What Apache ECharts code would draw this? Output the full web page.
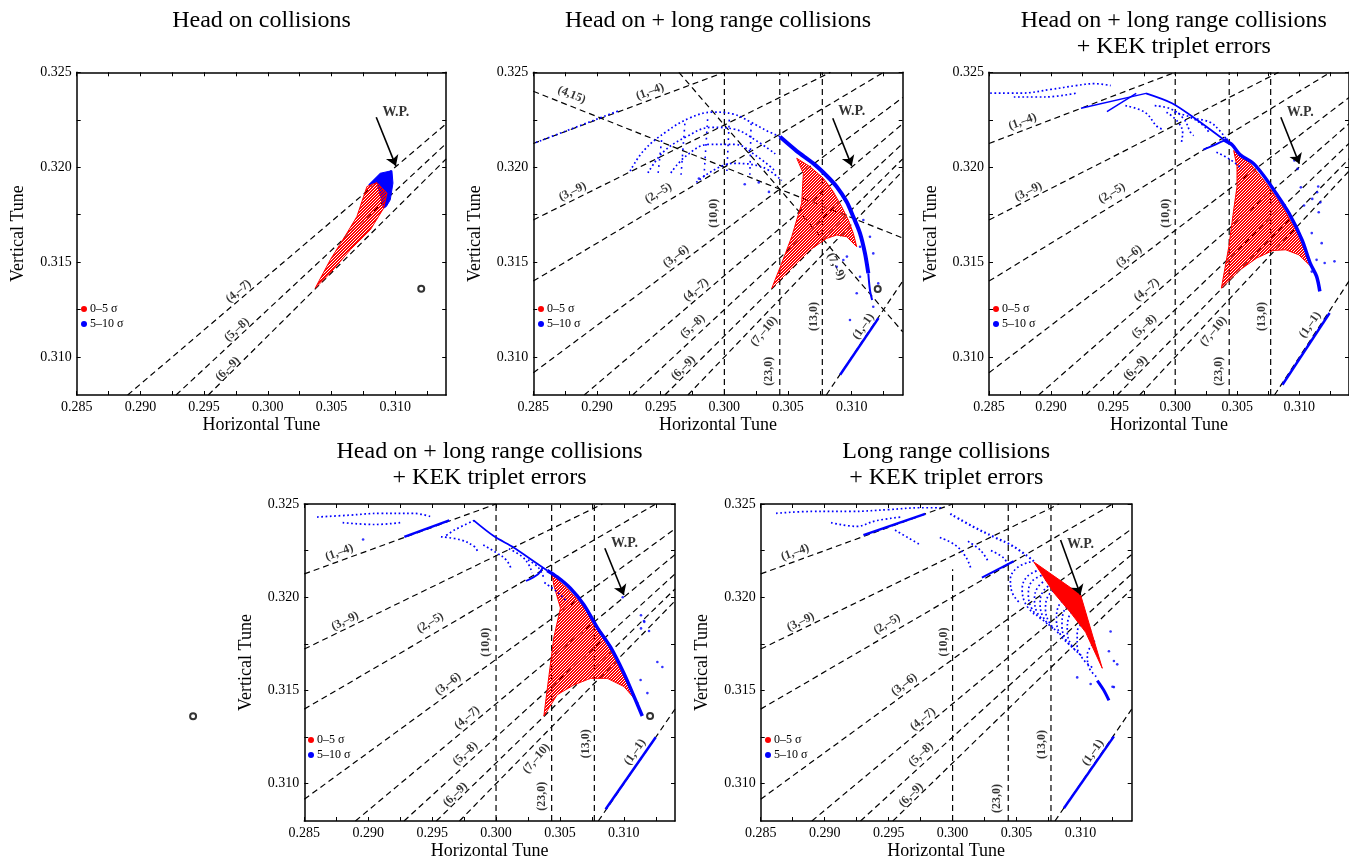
<!DOCTYPE html>
<html>
<head>
<meta charset="utf-8">
<script src="https://cdn.jsdelivr.net/npm/echarts@6/dist/echarts.min.js"></script>
<style>
  html, body { margin: 0; padding: 0; background: #fff; }
  #main { width: 1349px; height: 861px; }
</style>
</head>
<body>
<div id="main"></div>
<script>
// ---- axis ticks and labels (tune units) ----
var xTickLabels = [0.285, 0.290, 0.295, 0.300, 0.305, 0.310];
var yTickLabels = [0.310, 0.315, 0.320, 0.325];
var xTicks = [0.285, 0.2875, 0.290, 0.2925, 0.295, 0.2975, 0.300, 0.3025, 0.305, 0.3075, 0.310, 0.3125];
var yTicks = [0.3100, 0.3125, 0.3150, 0.3175, 0.3200, 0.3225, 0.3250];

// ---- resonance lines, end points ----
var res_1_m4 = [[0.285, 0.32125], [0.300, 0.325]];
var res_3_m9 = [[0.285, 0.31722], [0.30833, 0.325]];
var res_2_m5 = [[0.285, 0.314], [0.3125, 0.325]];
var res_3_m6 = [[0.285, 0.30917], [0.314, 0.32367]];
var res_4_m7 = [[0.289, 0.308], [0.314, 0.32229]];
var res_5_m8 = [[0.2928, 0.308], [0.314, 0.32125]];
var res_6_m9 = [[0.29533, 0.308], [0.314, 0.32044]];
var res_7_m10 = [[0.29714, 0.308], [0.314, 0.3198]];
var res_1_m1 = [[0.308, 0.308], [0.314, 0.314]];
var res_10_0 = [[0.300, 0.308], [0.300, 0.325]];
var res_10_0_cut = [[0.300, 0.308], [0.300, 0.3215]];
var res_23_0 = [[0.30435, 0.308], [0.30435, 0.325]];
var res_13_0 = [[0.30769, 0.308], [0.30769, 0.325]];
var res_4_15 = [[0.285, 0.324], [0.314, 0.31627]];
var res_7_9 = [[0.29643, 0.325], [0.314, 0.31133]];

// ---- resonance labels [text, Qx, Qy] ----
var lab1 = [['(4,–7)', 0.2977, 0.31346], ['(5,–8)', 0.29757, 0.31144], ['(6,–9)', 0.29686, 0.30937]];
var lab2 = [['(4,15)', 0.28801, 0.32381], ['(1,–4)', 0.29416, 0.32398], ['(3,–9)', 0.28809, 0.31872],
  ['(2,–5)', 0.29482, 0.31863], ['(10,0)', 0.29914, 0.31758], ['(3,–6)', 0.2962, 0.3153],
  ['(4,–7)', 0.29778, 0.31354], ['(5,–8)', 0.29751, 0.31161], ['(6,–9)', 0.29678, 0.30942],
  ['(7,–10)', 0.30312, 0.31135], ['(23,0)', 0.30346, 0.30925], ['(13,0)', 0.30699, 0.31214],
  ['(7,–9)', 0.30877, 0.31477], ['(1,–1)', 0.31092, 0.31161]];
var lab3 = [['(1,–4)', 0.2877, 0.3224], ['(3,–9)', 0.28817, 0.31872], ['(2,–5)', 0.2949, 0.31863],
  ['(10,0)', 0.29927, 0.31758], ['(3,–6)', 0.29628, 0.3153], ['(4,–7)', 0.2977, 0.31354],
  ['(5,–8)', 0.29751, 0.31161], ['(6,–9)', 0.29681, 0.30942], ['(7,–10)', 0.30309, 0.31135],
  ['(23,0)', 0.30348, 0.30925], ['(13,0)', 0.30702, 0.31214], ['(1,–1)', 0.31087, 0.3117]];
var lab4 = [['(1,–4)', 0.28774, 0.3224], ['(3,–9)', 0.28819, 0.31872], ['(2,–5)', 0.29485, 0.31863],
  ['(10,0)', 0.29924, 0.31758], ['(3,–6)', 0.29624, 0.31535], ['(4,–7)', 0.29773, 0.31354],
  ['(5,–8)', 0.2976, 0.31161], ['(6,–9)', 0.29681, 0.30942], ['(7,–10)', 0.30316, 0.31135],
  ['(23,0)', 0.30355, 0.30933], ['(13,0)', 0.307, 0.31214], ['(1,–1)', 0.31087, 0.3117]];
var lab5 = [['(1,–4)', 0.28769, 0.3224], ['(3,–9)', 0.28813, 0.31868], ['(2,–5)', 0.29487, 0.31856],
  ['(10,0)', 0.2993, 0.3176], ['(3,–6)', 0.29622, 0.31532], ['(4,–7)', 0.29768, 0.31346],
  ['(5,–8)', 0.29753, 0.31158], ['(6,–9)', 0.29675, 0.30939], ['(23,0)', 0.30348, 0.30921],
  ['(13,0)', 0.307, 0.3121], ['(1,–1)', 0.31097, 0.31167]];

// ---- working point: label position and arrow ----
var wpText = [[0.31005, 0.32289], [0.31, 0.32293], [0.31008, 0.32289], [0.31005, 0.32289], [0.31, 0.32281]];
var wpArrow = [
  [[0.30851, 0.32263], [0.31005, 0.32007]],
  [[0.30851, 0.32258], [0.31, 0.32007]],
  [[0.30851, 0.32263], [0.31, 0.32018]],
  [[0.30851, 0.32263], [0.31, 0.32012]],
  [[0.30844, 0.32307], [0.31, 0.32012]]
];

// ---- panel 1: head on ----
var p1Red = [[0.30372, 0.31363], [0.3049, 0.31512], [0.30621, 0.31653], [0.30699, 0.3174], [0.30778, 0.31898],
  [0.30856, 0.31919], [0.30935, 0.31863], [0.30909, 0.31784], [0.30804, 0.3167], [0.30647, 0.31565], [0.3049, 0.31442]];
var p1Blue = [[0.30791, 0.31907], [0.30882, 0.31968], [0.30974, 0.31982], [0.30982, 0.31916], [0.30961, 0.31828],
  [0.3093, 0.31793], [0.30909, 0.31784], [0.30856, 0.31919]];
var p1Circ = [[0.31204, 0.3136]];

// ---- panel 2: head on + long range ----
var p2Red = [[0.30372, 0.31362], [0.3045, 0.31494], [0.30529, 0.31634], [0.30607, 0.3181], [0.3062, 0.31968],
  [0.30568, 0.32047], [0.30672, 0.32003], [0.30777, 0.31942], [0.30855, 0.31871], [0.30921, 0.31792],
  [0.30973, 0.31722], [0.31012, 0.31652], [0.31039, 0.31581], [0.3096, 0.31634], [0.30882, 0.31643],
  [0.30803, 0.31625], [0.30672, 0.31564], [0.30541, 0.31476]];
var p2Band = [[0.30437, 0.3216], [0.30568, 0.32085], [0.30698, 0.3202], [0.30803, 0.31955], [0.30882, 0.31897],
  [0.3096, 0.31818], [0.31012, 0.31739], [0.31065, 0.31652], [0.31104, 0.31546], [0.3113, 0.31441]];
var p2BandTail = [[0.3113, 0.31441], [0.31143, 0.31353], [0.3116, 0.3130]];
var p2Arc1 = [[0.2926, 0.3198], [0.2937, 0.3209], [0.2955, 0.3219], [0.2973, 0.3226], [0.2991, 0.3229],
  [0.3007, 0.3228], [0.302, 0.3224], [0.3034, 0.3219], [0.3044, 0.3216]];
var p2Arc2 = [[0.294, 0.3197], [0.2952, 0.3208], [0.297, 0.3216], [0.299, 0.3221], [0.3008, 0.322], [0.3025, 0.3214], [0.304, 0.3207]];
var p2Arc3 = [[0.2958, 0.3197], [0.297, 0.3206], [0.2988, 0.3212], [0.3008, 0.3212], [0.3025, 0.3206], [0.304, 0.3198]];
var p2Arc4 = [[0.2978, 0.3192], [0.3007, 0.3202], [0.303, 0.32], [0.3045, 0.3193]];
var p2Col1 = [[0.2948, 0.3197], [0.2951, 0.3216]];
var p2Col2 = [[0.2966, 0.3196], [0.2969, 0.3223]];
var p2Col3 = [[0.2984, 0.3195], [0.2987, 0.3227]];
var p2Col4 = [[0.3002, 0.3198], [0.3004, 0.3227]];
var p2Col5 = [[0.302, 0.3196], [0.3021, 0.3223]];
var p2Tail = [[0.2852, 0.3213], [0.2918, 0.323]];
var p2Diag = [[0.30909, 0.30907], [0.3121, 0.31205]];
var p2Pts = [[0.31091, 0.31722], [0.31143, 0.31634], [0.31065, 0.31581], [0.31169, 0.31546], [0.31065, 0.31423],
  [0.31039, 0.31336], [0.30986, 0.31195], [0.31169, 0.31265], [0.31208, 0.31388], [0.30882, 0.31476],
  [0.30934, 0.31511], [0.30962, 0.31529], [0.298, 0.3194], [0.3016, 0.3191], [0.3027, 0.3192], [0.3035, 0.3187]];
var p2Circ = [[0.31204, 0.31358]];

// ---- panel 3: head on + long range + KEK errors ----
var p3Red = [[0.30372, 0.31363], [0.30432, 0.31582], [0.30471, 0.31775], [0.30498, 0.31898], [0.30498, 0.32003],
  [0.30471, 0.32088], [0.30602, 0.32021], [0.30733, 0.31916], [0.30864, 0.31793], [0.30969, 0.3167],
  [0.31047, 0.31565], [0.31094, 0.31477], [0.30995, 0.31539], [0.3089, 0.31565], [0.30786, 0.31561],
  [0.30655, 0.31521], [0.30524, 0.3146]];
var p3Band = [[0.30393, 0.32144], [0.30458, 0.32118], [0.30524, 0.32065], [0.30628, 0.32021], [0.30707, 0.3196],
  [0.30812, 0.31863], [0.30916, 0.31758], [0.31021, 0.31618], [0.31087, 0.31495], [0.31139, 0.31425], [0.31165, 0.31346]];
var p3Ridge = [[0.29765, 0.32389], [0.29974, 0.32337], [0.30157, 0.32258], [0.30288, 0.32196], [0.30393, 0.32144]];
var p3Top = [[0.2851, 0.3239], [0.2875, 0.3239], [0.29, 0.3241], [0.292, 0.3243], [0.2935, 0.3244], [0.2948, 0.3243]];
var p3Top2 = [[0.287, 0.3237], [0.2895, 0.3237], [0.292, 0.3239]];
var p3Streak1 = [[0.29241, 0.32311], [0.29765, 0.32389]];
var p3Streak2 = [[0.2945, 0.32293], [0.29686, 0.32389]];
var p3Arc1 = [[0.29599, 0.32324], [0.29756, 0.32289], [0.29861, 0.3221], [0.29913, 0.32201]];
var p3Arc2 = [[0.29835, 0.32324], [0.29966, 0.32307], [0.3007, 0.32254], [0.30123, 0.32184], [0.30149, 0.32166]];
var p3Arc3 = [[0.29992, 0.32289], [0.30123, 0.32263], [0.30227, 0.32219], [0.3028, 0.32175]];
var p3Arc4 = [[0.30175, 0.32254], [0.3028, 0.32237], [0.30358, 0.32193], [0.3041, 0.32149]];
var p3Arc5 = [[0.2993, 0.3229], [0.3002, 0.3224], [0.3006, 0.3218], [0.3005, 0.3213]];
var p3Hook = [[0.30227, 0.32093], [0.30332, 0.32122], [0.30423, 0.32149]];
var p3Drift = [[0.30332, 0.32079], [0.30437, 0.32043], [0.30541, 0.31991]];
var p3Diag = [[0.30864, 0.30854], [0.31244, 0.31232]];
var p3Pts = [[0.3096, 0.32035], [0.30986, 0.31991], [0.31012, 0.31894], [0.31143, 0.31868], [0.31169, 0.31815],
  [0.31104, 0.31833], [0.31156, 0.31763], [0.31038, 0.31798], [0.31139, 0.31512], [0.31204, 0.31495],
  [0.31283, 0.31504], [0.311, 0.31653], [0.31152, 0.31898], [0.3118, 0.316], [0.311, 0.3145]];

// ---- panel 4: same configuration, second run ----
var p4Red = [[0.30374, 0.31363], [0.30413, 0.31574], [0.30452, 0.31784], [0.30504, 0.31942], [0.30452, 0.32065],
  [0.30439, 0.32121], [0.30557, 0.32047], [0.30661, 0.31968], [0.30766, 0.31872], [0.3087, 0.31767],
  [0.30975, 0.31626], [0.31066, 0.31486], [0.311, 0.31442], [0.31001, 0.31521], [0.3087, 0.31565],
  [0.30739, 0.31565], [0.30609, 0.3153], [0.30478, 0.31477]];
var p4Band = [[0.304, 0.32144], [0.30478, 0.32109], [0.30583, 0.32047], [0.30687, 0.3196], [0.30792, 0.31837],
  [0.30896, 0.31732], [0.31001, 0.31591], [0.31079, 0.31468], [0.31144, 0.31363]];
var p4Ridge = [[0.29825, 0.32412], [0.29982, 0.32328], [0.30138, 0.32267], [0.30269, 0.32205], [0.304, 0.32144]];
var p4Top = [[0.286, 0.3243], [0.2885, 0.3244], [0.291, 0.3245], [0.2935, 0.3245], [0.295, 0.3243]];
var p4Top2 = [[0.288, 0.324], [0.2905, 0.3239], [0.2925, 0.324]];
var p4Streak = [[0.29282, 0.32324], [0.29634, 0.32412]];
var p4Peak = [[0.2983, 0.32412], [0.29674, 0.3236], [0.29595, 0.32324]];
var p4Arc1 = [[0.29569, 0.32324], [0.29726, 0.32307], [0.2983, 0.32272], [0.29856, 0.32245]];
var p4Arc2 = [[0.299, 0.3228], [0.3, 0.3224], [0.3008, 0.322], [0.3012, 0.3215]];
var p4Arc3 = [[0.301, 0.3226], [0.302, 0.3222], [0.3026, 0.3217], [0.3028, 0.3213]];
var p4Arc4 = [[0.3025, 0.322], [0.3033, 0.3216], [0.3037, 0.3211]];
var p4Hook = [[0.30234, 0.32087], [0.30326, 0.32122], [0.30365, 0.32158]];
var p4Drift = [[0.30378, 0.32079], [0.30482, 0.32026], [0.3056, 0.31973]];
var p4Diag = [[0.30857, 0.30863], [0.31249, 0.31249]];
var p4Pts = [[0.30991, 0.32], [0.31134, 0.31903], [0.3116, 0.31868], [0.31134, 0.31833], [0.31157, 0.31872],
  [0.31197, 0.31819], [0.31262, 0.31653], [0.31301, 0.31626], [0.31184, 0.31486], [0.31105, 0.31433],
  [0.31131, 0.31556], [0.2896, 0.3231]];
var p4Circ = [[0.31205, 0.31363], [0.2763, 0.31362]];

// ---- panel 5: long range + KEK errors ----
var p5Red = [[0.30635, 0.32189], [0.31, 0.32014], [0.3117, 0.31619], [0.3104, 0.31812], [0.30922, 0.31918], [0.30792, 0.32023]];
var p5Ridge = [[0.29982, 0.32447], [0.30164, 0.32377], [0.30321, 0.32324], [0.30477, 0.32272], [0.30635, 0.32193]];
var p5Top = [[0.2862, 0.3245], [0.289, 0.3246], [0.292, 0.3246], [0.295, 0.3247], [0.2975, 0.3248], [0.2992, 0.3248]];
var p5Top2 = [[0.2905, 0.324], [0.2925, 0.3238], [0.294, 0.3241], [0.296, 0.3243]];
var p5Streak = [[0.29303, 0.32333], [0.29786, 0.32447]];
var p5Hook = [[0.30229, 0.32105], [0.30477, 0.32193]];
var p5Arc1 = [[0.30609, 0.3219], [0.30504, 0.32158], [0.30452, 0.32096], [0.30465, 0.32026], [0.30531, 0.31965]];
var p5Arc2 = [[0.30687, 0.32149], [0.30583, 0.32111], [0.30544, 0.32044], [0.3057, 0.31965], [0.30648, 0.31903]];
var p5Arc3 = [[0.30765, 0.32105], [0.30674, 0.32061], [0.3064, 0.31991], [0.30666, 0.31912], [0.30752, 0.31851]];
var p5Arc4 = [[0.30844, 0.32061], [0.30752, 0.32012], [0.30726, 0.31939], [0.3076, 0.3186], [0.30844, 0.31798]];
var p5Arc5 = [[0.30909, 0.32009], [0.30831, 0.31956], [0.30812, 0.31877], [0.30844, 0.31798], [0.30927, 0.31737]];
var p5Arc6 = [[0.30974, 0.31956], [0.30909, 0.31895], [0.30896, 0.31816], [0.30935, 0.31737], [0.31013, 0.31684]];
var p5Arc7 = [[0.31026, 0.31868], [0.30974, 0.31816], [0.30974, 0.31737], [0.31021, 0.31667], [0.31092, 0.31623]];
var p5Arc8 = [[0.31092, 0.31746], [0.31053, 0.31693], [0.31066, 0.31623], [0.31131, 0.3157]];
var p5Arc9 = [[0.30726, 0.32125], [0.3062, 0.32085], [0.30592, 0.32015], [0.30622, 0.31935], [0.307, 0.31878]];
var p5Arc10 = [[0.30805, 0.32083], [0.30712, 0.32036], [0.30684, 0.31965], [0.30714, 0.31886], [0.30798, 0.31825]];
var p5Arc11 = [[0.30942, 0.31982], [0.3087, 0.31925], [0.30855, 0.31846], [0.3089, 0.31767], [0.3097, 0.3171]];
var p5Tail = [[0.31131, 0.31553], [0.31183, 0.315], [0.31222, 0.31447]];
var p5Cloud1 = [[0.299, 0.3232], [0.3002, 0.3228], [0.301, 0.3222], [0.3014, 0.3216]];
var p5Cloud2 = [[0.3012, 0.323], [0.3022, 0.3225], [0.3028, 0.3219]];
var p5Cloud3 = [[0.303, 0.3225], [0.304, 0.3221], [0.3044, 0.3216]];
var p5Cloud4 = [[0.2955, 0.3236], [0.2965, 0.3232], [0.2975, 0.3228]];
var p5Diag = [[0.3087, 0.30868], [0.31261, 0.31254]];
var p5Pts = [[0.31235, 0.31816], [0.31261, 0.31658], [0.31287, 0.3164], [0.31261, 0.31518], [0.30974, 0.3157],
  [0.31079, 0.31535], [0.31105, 0.31763], [0.31222, 0.3171], [0.3125, 0.3152]];

// ---------------------------------------------------------------
var FONT = 'Liberation Serif';
var RED = '#ff0000', BLUE = '#0000ff';
var labelAngle = {'(1,–4)': 20, '(3,–9)': 26, '(2,–5)': 31, '(3,–6)': 37, '(4,–7)': 40, '(5,–8)': 43,
  '(6,–9)': 45, '(7,–10)': 50, '(1,–1)': 55, '(10,0)': 90, '(23,0)': 90, '(13,0)': 90,
  '(4,15)': -22, '(7,–9)': -65};

var grids = [
  {left: 76.7, top: 72.3, width: 369.5, height: 322.7},
  {left: 533.3, top: 72.3, width: 369.4, height: 322.7},
  {left: 989, top: 72.3, width: 369.4, height: 322.7},
  {left: 304.3, top: 504, width: 370.7, height: 322.7},
  {left: 760.7, top: 504, width: 371, height: 323}
];
var legendPos = [[81, 303], [538, 303], [993, 303], [308, 734], [765, 734]];
var titles = [
  ['Head on collisions', 261.5, 8],
  ['Head on + long range collisions', 718, 8],
  ['Head on + long range collisions\n+ KEK triplet errors', 1173.7, 8],
  ['Head on + long range collisions\n+ KEK triplet errors', 489.6, 439],
  ['Long range collisions\n+ KEK triplet errors', 946.2, 439]
];

// stripe fill that mimics the dense mesh of red tune points
function meshFill(period, keep) {
  var c = document.createElement('canvas');
  c.width = period; c.height = period;
  var g = c.getContext('2d');
  g.fillStyle = RED;
  for (var x = 0; x < period; x++) {
    for (var y = 0; y < period; y++) {
      if (keep.indexOf((x + y) % period) >= 0) g.fillRect(x, y, 1, 1);
    }
  }
  return {image: c, repeat: 'repeat'};
}
var mesh = meshFill(3, [0, 1]);

var axisLine = {show: true, onZero: false, lineStyle: {color: '#000', width: 1.5}};
var xAxes = [], yAxes = [];
grids.forEach(function (gr, i) {
  var tickX = {show: true, inside: true, length: 4, customValues: xTicks, lineStyle: {color: '#000', width: 1}};
  var tickY = {show: true, inside: true, length: 4, customValues: yTicks, lineStyle: {color: '#000', width: 1}};
  xAxes.push({
    gridIndex: i, type: 'value', position: 'bottom', min: 0.285, max: 0.314,
    axisLine: axisLine, axisTick: tickX, splitLine: {show: false},
    axisLabel: {customValues: xTickLabels, formatter: function (v) { return v.toFixed(3); },
      fontFamily: FONT, fontSize: 14, color: '#000', margin: 5},
    name: 'Horizontal Tune', nameLocation: 'middle', nameGap: 21,
    nameTextStyle: {fontFamily: FONT, fontSize: 18, color: '#000'}
  });
  xAxes.push({
    gridIndex: i, type: 'value', position: 'top', min: 0.285, max: 0.314,
    axisLine: axisLine, axisTick: tickX, splitLine: {show: false}, axisLabel: {show: false}
  });
  yAxes.push({
    gridIndex: i, type: 'value', position: 'left', min: 0.308, max: 0.325,
    axisLine: axisLine, axisTick: tickY, splitLine: {show: false},
    axisLabel: {customValues: yTickLabels, formatter: function (v) { return v.toFixed(3); },
      fontFamily: FONT, fontSize: 14, color: '#000', margin: 5},
    name: 'Vertical Tune', nameLocation: 'middle', nameGap: 49,
    nameTextStyle: {fontFamily: FONT, fontSize: 18, color: '#000'}
  });
  yAxes.push({
    gridIndex: i, type: 'value', position: 'right', min: 0.308, max: 0.325,
    axisLine: axisLine, axisTick: tickY, splitLine: {show: false}, axisLabel: {show: false}
  });
});

function ax(g) { return {xAxisIndex: 2 * g, yAxisIndex: 2 * g}; }

function dashed(g, pts) {
  return Object.assign({type: 'line', data: pts, symbol: 'none', silent: true, z: 2,
    lineStyle: {color: '#000', width: 1.2, type: [6, 4]}}, ax(g));
}
function polygon(g, pts, fill, stroke, name, z) {
  return Object.assign({type: 'custom', name: name, silent: true, z: z, data: [pts[0]],
    renderItem: function (params, api) {
      return {type: 'polygon', shape: {points: pts.map(function (p) { return api.coord(p); })},
        style: {fill: fill, stroke: stroke, lineWidth: 1}};
    }}, ax(g));
}
function dots(g, pts, w, gap) {
  return Object.assign({type: 'line', name: '5–10 σ', data: pts, symbol: 'none', smooth: 0.4, silent: true, z: 4,
    lineStyle: {color: BLUE, width: w || 1.7, type: [1.7, gap || 2.6]}}, ax(g));
}
function band(g, pts, w) {
  return Object.assign({type: 'line', name: '5–10 σ', data: pts, symbol: 'none', smooth: 0.3, silent: true, z: 4,
    lineStyle: {color: BLUE, width: w}}, ax(g));
}
function points(g, pts) {
  return Object.assign({type: 'scatter', name: '5–10 σ', data: pts, symbolSize: 2.6, silent: true, z: 4,
    itemStyle: {color: BLUE}}, ax(g));
}
function circles(g, pts) {
  return Object.assign({type: 'scatter', data: pts, symbol: 'emptyCircle', symbolSize: 6, clip: false, silent: true, z: 5,
    itemStyle: {color: '#000', borderColor: '#000', borderWidth: 1}}, ax(g));
}
function labels(g, arr) {
  return Object.assign({type: 'scatter', data: arr.map(function (a) {
      return {value: [a[1], a[2]], label: {formatter: a[0], rotate: labelAngle[a[0]]}};
    }), symbolSize: 1, silent: true, z: 5, itemStyle: {color: 'transparent'},
    label: {show: true, position: 'inside', fontFamily: FONT, fontWeight: 'bold', fontSize: 12, color: '#000'}}, ax(g));
}
function workPoint(g) {
  return Object.assign({type: 'scatter', data: [wpText[g]], symbolSize: 1, silent: true, z: 6,
    itemStyle: {color: 'transparent'},
    label: {show: true, position: 'inside', formatter: 'W.P.', fontFamily: FONT, fontWeight: 'bold', fontSize: 14, color: '#000'},
    markLine: {silent: true, animation: false, symbol: ['none', 'arrow'], symbolSize: 10,
      lineStyle: {color: '#000', width: 1.6, type: 'solid'}, label: {show: false},
      data: [[{coord: wpArrow[g][0]}, {coord: wpArrow[g][1]}]]}}, ax(g));
}

var lines1 = [res_4_m7, res_5_m8, res_6_m9];
var linesStd = [res_1_m4, res_3_m9, res_2_m5, res_3_m6, res_4_m7, res_5_m8, res_6_m9, res_7_m10,
  res_1_m1, res_10_0, res_23_0, res_13_0];
var lines2 = linesStd.concat([res_4_15, res_7_9]);
var lines5 = [res_1_m4, res_3_m9, res_2_m5, res_3_m6, res_4_m7, res_5_m8, res_6_m9,
  res_1_m1, res_10_0_cut, res_23_0, res_13_0];

var series = [];
function addLines(g, list) { list.forEach(function (l) { series.push(dashed(g, l)); }); }

// panel 1
addLines(0, lines1);
series.push(polygon(0, p1Blue, BLUE, BLUE, '5–10 σ', 3));
series.push(polygon(0, p1Red, mesh, RED, '0–5 σ', 3.5));
series.push(circles(0, p1Circ), labels(0, lab1), workPoint(0));

// panel 2
addLines(1, lines2);
series.push(polygon(1, p2Red, mesh, RED, '0–5 σ', 3));
series.push(band(1, p2Band, 4), band(1, p2BandTail, 2), band(1, p2Diag, 2.5));
[p2Arc1, p2Arc2, p2Arc3, p2Arc4, p2Tail].forEach(function (a) { series.push(dots(1, a)); });
[p2Col1, p2Col2, p2Col3, p2Col4, p2Col5].forEach(function (a) { series.push(dots(1, a, 1.6, 4.5)); });
series.push(points(1, p2Pts), circles(1, p2Circ), labels(1, lab2), workPoint(1));

// panel 3
addLines(2, linesStd);
series.push(polygon(2, p3Red, mesh, RED, '0–5 σ', 3));
series.push(band(2, p3Band, 3.5), band(2, p3Ridge, 1.8), band(2, p3Streak1, 1.5), band(2, p3Streak2, 1.5),
  band(2, p3Hook, 1.8), band(2, p3Diag, 2.5));
[p3Top, p3Top2, p3Arc1, p3Arc2, p3Arc3, p3Arc4, p3Arc5, p3Drift].forEach(function (a) { series.push(dots(2, a)); });
series.push(points(2, p3Pts), labels(2, lab3), workPoint(2));

// panel 4
addLines(3, linesStd);
series.push(polygon(3, p4Red, mesh, RED, '0–5 σ', 3));
series.push(band(3, p4Band, 3.5), band(3, p4Ridge, 1.8), band(3, p4Streak, 2.5), band(3, p4Hook, 1.8), band(3, p4Diag, 2.5));
[p4Top, p4Top2, p4Peak, p4Arc1, p4Arc2, p4Arc3, p4Arc4, p4Drift].forEach(function (a) { series.push(dots(3, a)); });
series.push(points(3, p4Pts), circles(3, p4Circ), labels(3, lab4), workPoint(3));

// panel 5
addLines(4, lines5);
[p5Arc1, p5Arc2, p5Arc3, p5Arc4, p5Arc5, p5Arc6, p5Arc7, p5Arc8, p5Arc9, p5Arc10, p5Arc11, p5Top, p5Top2,
  p5Cloud1, p5Cloud2, p5Cloud3, p5Cloud4].forEach(function (a) { series.push(dots(4, a)); });
series.push(dots(4, p5Ridge, 2.2));
series.push(band(4, p5Streak, 2.5), band(4, p5Hook, 2), band(4, p5Tail, 3), band(4, p5Diag, 2.5));
series.push(polygon(4, p5Red, RED, RED, '0–5 σ', 4.5));
series.push(points(4, p5Pts), labels(4, lab5), workPoint(4));

var chart = echarts.init(document.getElementById('main'));
chart.setOption({
  animation: false,
  backgroundColor: '#fff',
  grid: grids,
  xAxis: xAxes,
  yAxis: yAxes,
  legend: legendPos.map(function (p) {
    return {left: p[0], top: p[1], orient: 'vertical', itemWidth: 6, itemHeight: 6, itemGap: 3, padding: 0,
      icon: 'circle', selectedMode: false,
      textStyle: {fontFamily: FONT, fontSize: 12, color: '#000', padding: [0, 0, 0, -2]},
      data: [{name: '0–5 σ', itemStyle: {color: RED}}, {name: '5–10 σ', itemStyle: {color: BLUE}}]};
  }),
  graphic: titles.map(function (t) {
    return {type: 'text', x: t[1], y: t[2], silent: true,
      style: {text: t[0], fill: '#000', font: '24px "Liberation Serif"', fontSize: 24, fontFamily: FONT,
        align: 'center', textAlign: 'center', verticalAlign: 'top', textVerticalAlign: 'top', lineHeight: 26}};
  }),
  series: series
});
</script>
</body>
</html>
